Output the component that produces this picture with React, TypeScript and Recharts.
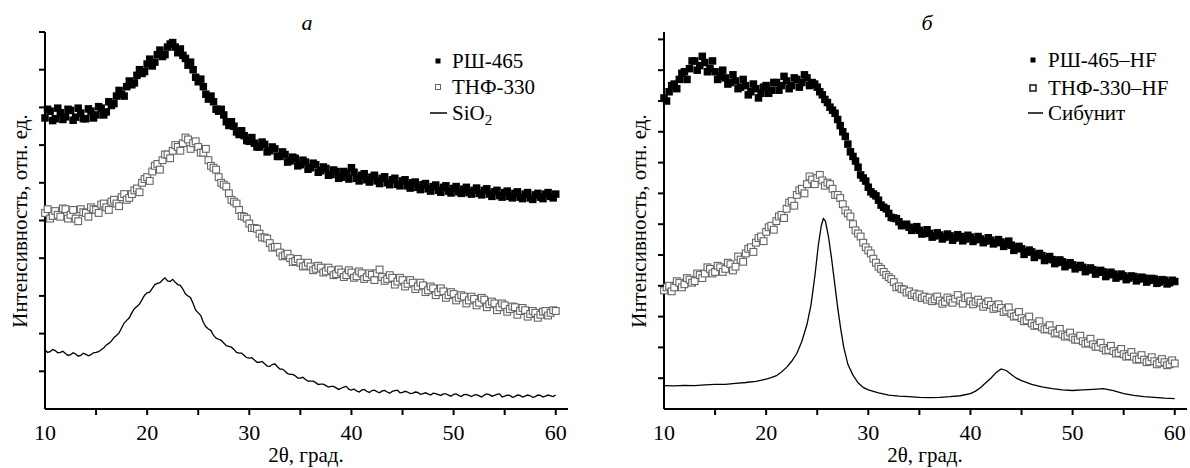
import React from 'react'
import { ComposedChart, Scatter, Line, XAxis, YAxis } from 'recharts'

// 2θ grid (deg) of the scan, whole and half steps
const twoTheta = [
  10, 10.5, 11, 11.5, 12, 12.5, 13, 13.5, 14, 14.5, 15, 15.5, 16, 16.5, 17, 17.5, 18, 18.5, 19, 19.5,
  20, 20.5, 21, 21.5, 22, 22.5, 23, 23.5, 24, 24.5, 25, 25.5, 26, 26.5, 27, 27.5, 28, 28.5, 29, 29.5,
  30, 30.5, 31, 31.5, 32, 32.5, 33, 33.5, 34, 34.5, 35, 35.5, 36, 36.5, 37, 37.5, 38, 38.5, 39, 39.5,
  40, 40.5, 41, 41.5, 42, 42.5, 43, 43.5, 44, 44.5, 45, 45.5, 46, 46.5, 47, 47.5, 48, 48.5, 49, 49.5,
  50, 50.5, 51, 51.5, 52, 52.5, 53, 53.5, 54, 54.5, 55, 55.5, 56, 56.5, 57, 57.5, 58, 58.5, 59, 59.5, 60
]
// the in-between points of the scan
const twoThetaMid = [
  10.25, 10.75, 11.25, 11.75, 12.25, 12.75, 13.25, 13.75, 14.25, 14.75, 15.25, 15.75, 16.25, 16.75, 17.25, 17.75, 18.25, 18.75, 19.25, 19.75,
  20.25, 20.75, 21.25, 21.75, 22.25, 22.75, 23.25, 23.75, 24.25, 24.75, 25.25, 25.75, 26.25, 26.75, 27.25, 27.75, 28.25, 28.75, 29.25, 29.75,
  30.25, 30.75, 31.25, 31.75, 32.25, 32.75, 33.25, 33.75, 34.25, 34.75, 35.25, 35.75, 36.25, 36.75, 37.25, 37.75, 38.25, 38.75, 39.25, 39.75,
  40.25, 40.75, 41.25, 41.75, 42.25, 42.75, 43.25, 43.75, 44.25, 44.75, 45.25, 45.75, 46.25, 46.75, 47.25, 47.75, 48.25, 48.75, 49.25, 49.75,
  50.25, 50.75, 51.25, 51.75, 52.25, 52.75, 53.25, 53.75, 54.25, 54.75, 55.25, 55.75, 56.25, 56.75, 57.25, 57.75, 58.25, 58.75, 59.25, 59.75
]

// panel a
const rsh465 = [
  7.72, 7.9, 7.7, 7.86, 7.75, 7.92, 7.74, 7.85, 7.7, 7.9, 7.8, 7.98, 7.88, 8.05, 8.3, 8.35, 8.55, 8.6, 8.85, 8.9,
  9.15, 9.1, 9.4, 9.35, 9.6, 9.72, 9.45, 9.38, 9.12, 9.0, 8.68, 8.55, 8.22, 8.15, 7.9, 7.8, 7.52, 7.5, 7.28, 7.25,
  7.1, 7.05, 6.95, 7.02, 6.85, 6.9, 6.7, 6.75, 6.58, 6.65, 6.48, 6.55, 6.4, 6.48, 6.32, 6.38, 6.22, 6.3, 6.15, 6.25,
  6.4, 6.12, 6.2, 6.08, 6.15, 6.05, 6.12, 6.0, 6.08, 5.96, 6.05, 5.92, 6.0, 5.88, 5.95, 5.84, 5.9, 5.8, 5.88, 5.78,
  5.85, 5.76, 5.83, 5.74, 5.8, 5.72, 5.8, 5.7, 5.76, 5.66, 5.74, 5.64, 5.72, 5.62, 5.7, 5.6, 5.68, 5.62, 5.7, 5.64, 5.7
]
const rsh465Mid = [
  7.95, 7.65, 7.98, 7.68, 7.95, 7.66, 7.98, 7.7, 7.96, 7.72, 8.02, 7.8, 8.15, 8.1, 8.45, 8.3, 8.7, 8.65, 9.0, 8.95,
  9.28, 9.2, 9.52, 9.4, 9.68, 9.6, 9.55, 9.3, 9.2, 8.8, 8.75, 8.35, 8.3, 7.95, 7.95, 7.62, 7.62, 7.35, 7.38, 7.12,
  7.2, 6.95, 7.08, 6.82, 6.95, 6.7, 6.82, 6.55, 6.68, 6.45, 6.6, 6.36, 6.52, 6.28, 6.42, 6.2, 6.34, 6.12, 6.3, 6.1,
  6.28, 6.05, 6.24, 6.02, 6.2, 5.98, 6.16, 5.95, 6.12, 5.92, 6.08, 5.86, 6.02, 5.82, 5.98, 5.78, 5.94, 5.75, 5.92, 5.73,
  5.9, 5.72, 5.88, 5.7, 5.86, 5.68, 5.84, 5.64, 5.8, 5.62, 5.78, 5.6, 5.76, 5.58, 5.74, 5.56, 5.72, 5.58, 5.74, 5.6
]
const thf330 = [
  5.2, 5.05, 5.25, 5.1, 5.3, 5.15, 5.05, 5.3, 5.2, 5.35, 5.28, 5.42, 5.35, 5.5, 5.45, 5.62, 5.55, 5.7, 5.85, 6.0,
  6.15, 6.3, 6.5, 6.6, 6.75, 6.85, 6.95, 7.05, 7.15, 7.05, 6.95, 6.8, 6.6, 6.4, 6.15, 5.95, 5.72, 5.5, 5.28, 5.1,
  4.92, 4.8, 4.65, 4.55, 4.4, 4.3, 4.15, 4.08, 4.0, 3.92, 3.88, 3.8, 3.78, 3.72, 3.75, 3.65, 3.68, 3.58, 3.62, 3.55,
  3.62, 3.52, 3.6, 3.5, 3.56, 3.6, 3.5, 3.45, 3.48, 3.38, 3.42, 3.32, 3.35, 3.25, 3.28, 3.15, 3.2, 3.1, 3.12, 3.02,
  3.05, 2.95, 2.98, 2.88, 2.92, 2.82, 2.9, 2.78, 2.8, 2.7, 2.75, 2.65, 2.7, 2.6, 2.62, 2.52, 2.55, 2.5, 2.6, 2.55, 2.6
]
const thf330Mid = [
  5.3, 5.12, 5.15, 5.32, 5.05, 5.28, 4.98, 5.22, 5.1, 5.3, 5.2, 5.45, 5.28, 5.55, 5.38, 5.7, 5.6, 5.8, 5.75, 6.1,
  6.05, 6.45, 6.35, 6.75, 6.65, 7.0, 6.85, 7.2, 6.9, 7.1, 6.8, 6.9, 6.45, 6.35, 6.0, 5.9, 5.55, 5.45, 5.12, 5.05,
  4.8, 4.78, 4.55, 4.52, 4.28, 4.3, 4.05, 4.12, 3.9, 3.98, 3.78, 3.88, 3.68, 3.8, 3.62, 3.75, 3.55, 3.7, 3.5, 3.68,
  3.48, 3.65, 3.45, 3.6, 3.42, 3.7, 3.4, 3.55, 3.3, 3.48, 3.25, 3.42, 3.18, 3.35, 3.1, 3.25, 3.02, 3.2, 2.95, 3.1,
  2.88, 3.02, 2.8, 2.98, 2.75, 2.95, 2.7, 2.85, 2.62, 2.8, 2.58, 2.72, 2.5, 2.68, 2.45, 2.6, 2.42, 2.58, 2.48, 2.62
]
const sio2 = [
  1.57, 1.52, 1.55, 1.5, 1.47, 1.44, 1.46, 1.42, 1.45, 1.44, 1.5, 1.57, 1.7, 1.8, 1.95, 2.15, 2.35, 2.55, 2.72, 2.9,
  3.08, 3.2, 3.33, 3.42, 3.4, 3.44, 3.3, 3.18, 3.0, 2.8, 2.55, 2.3, 2.12, 1.95, 1.85, 1.75, 1.66, 1.58, 1.48, 1.42,
  1.35, 1.3, 1.24, 1.2, 1.13, 1.2, 1.06, 1.0, 0.92, 0.88, 0.82, 0.78, 0.74, 0.7, 0.66, 0.62, 0.6, 0.56, 0.55, 0.6,
  0.5, 0.48, 0.5, 0.47, 0.49, 0.46, 0.48, 0.45, 0.47, 0.5, 0.44, 0.45, 0.42, 0.44, 0.41, 0.4, 0.42, 0.38, 0.4, 0.37,
  0.39, 0.36, 0.38, 0.36, 0.37, 0.35, 0.37, 0.38, 0.36, 0.4, 0.34, 0.36, 0.33, 0.36, 0.34, 0.35, 0.33, 0.36, 0.34, 0.35, 0.37
]
const sio2Mid = [
  1.5, 1.58, 1.49, 1.53, 1.42, 1.49, 1.4, 1.48, 1.41, 1.49, 1.52, 1.62, 1.74, 1.9, 2.02, 2.28, 2.42, 2.66, 2.78, 3.02,
  3.1, 3.3, 3.35, 3.48, 3.38, 3.36, 3.28, 3.05, 2.95, 2.62, 2.48, 2.18, 2.08, 1.88, 1.82, 1.68, 1.64, 1.5, 1.48, 1.36,
  1.36, 1.24, 1.26, 1.14, 1.18, 1.12, 1.06, 0.94, 0.92, 0.82, 0.84, 0.74, 0.74, 0.65, 0.66, 0.58, 0.6, 0.52, 0.58, 0.52,
  0.53, 0.45, 0.52, 0.44, 0.5, 0.43, 0.49, 0.42, 0.49, 0.43, 0.47, 0.41, 0.45, 0.39, 0.43, 0.37, 0.41, 0.36, 0.4, 0.34,
  0.4, 0.33, 0.39, 0.33, 0.38, 0.32, 0.4, 0.34, 0.39, 0.32, 0.37, 0.31, 0.37, 0.32, 0.37, 0.31, 0.37, 0.32, 0.37, 0.33
]

// panel б
const rsh465hf = [
  10.1, 10.3, 10.55, 10.7, 10.95, 11.05, 11.3, 11.15, 11.25, 11.05, 10.95, 10.8, 10.75, 10.6, 10.65, 10.45, 10.5, 10.3, 10.4, 10.25,
  10.5, 10.35, 10.6, 10.5, 10.65, 10.5, 10.7, 10.6, 10.75, 10.6, 10.45, 10.2, 9.95, 9.7, 9.4, 9.0, 8.6, 8.2, 7.85, 7.5,
  7.2, 6.98, 6.78, 6.55, 6.35, 6.2, 6.08, 5.98, 5.9, 5.85, 5.8, 5.72, 5.7, 5.62, 5.65, 5.58, 5.62, 5.55, 5.6, 5.52,
  5.58, 5.5, 5.52, 5.45, 5.48, 5.4, 5.42, 5.34, 5.32, 5.22, 5.2, 5.1, 5.1, 5.0, 4.98, 4.88, 4.85, 4.76, 4.78, 4.68,
  4.68, 4.6, 4.6, 4.52, 4.52, 4.44, 4.45, 4.36, 4.38, 4.3, 4.32, 4.25, 4.3, 4.22, 4.25, 4.18, 4.22, 4.12, 4.18, 4.1, 4.14
]
const rsh465hfMid = [
  10.0, 10.5, 10.4, 10.9, 10.7, 11.3, 11.0, 11.45, 10.95, 11.3, 10.7, 11.0, 10.55, 10.85, 10.4, 10.7, 10.2, 10.55, 10.1, 10.45,
  10.25, 10.6, 10.35, 10.8, 10.4, 10.75, 10.45, 10.85, 10.5, 10.55, 10.3, 10.05, 9.8, 9.6, 9.2, 8.85, 8.35, 8.05, 7.6, 7.4,
  7.05, 6.92, 6.62, 6.5, 6.22, 6.18, 5.95, 6.0, 5.8, 5.92, 5.68, 5.82, 5.58, 5.72, 5.52, 5.68, 5.48, 5.66, 5.46, 5.64,
  5.44, 5.6, 5.4, 5.56, 5.36, 5.5, 5.28, 5.45, 5.15, 5.28, 5.02, 5.16, 4.92, 5.05, 4.82, 4.95, 4.72, 4.84, 4.62, 4.75,
  4.55, 4.66, 4.46, 4.58, 4.38, 4.5, 4.3, 4.44, 4.25, 4.38, 4.2, 4.32, 4.16, 4.28, 4.12, 4.24, 4.08, 4.2, 4.06, 4.18
]
const thf330hf = [
  3.85, 4.0, 3.95, 4.1, 4.05, 4.2, 4.15, 4.35, 4.4, 4.55, 4.45, 4.6, 4.55, 4.7, 4.62, 4.85, 5.05, 5.25, 5.4, 5.6,
  5.75, 5.95, 6.1, 6.3, 6.5, 6.75, 6.95, 7.15, 7.3, 7.45, 7.5, 7.42, 7.35, 7.15, 6.95, 6.65, 6.35, 6.0, 5.7, 5.4,
  5.15, 4.88, 4.62, 4.45, 4.28, 4.12, 3.98, 3.88, 3.82, 3.75, 3.72, 3.65, 3.62, 3.56, 3.52, 3.48, 3.55, 3.58, 3.52, 3.6,
  3.5, 3.48, 3.45, 3.4, 3.38, 3.3, 3.28, 3.2, 3.1, 3.02, 2.95, 2.88, 2.78, 2.72, 2.65, 2.6, 2.55, 2.48, 2.42, 2.38,
  2.32, 2.25, 2.2, 2.15, 2.1, 2.02, 1.98, 1.92, 1.88, 1.82, 1.78, 1.72, 1.7, 1.62, 1.6, 1.55, 1.55, 1.5, 1.52, 1.45, 1.48
]
const thf330hfMid = [
  3.95, 3.82, 4.15, 3.95, 4.25, 4.1, 4.4, 4.25, 4.6, 4.4, 4.65, 4.45, 4.75, 4.5, 4.95, 4.78, 5.2, 5.1, 5.55, 5.45,
  5.9, 5.82, 6.25, 6.2, 6.7, 6.6, 7.1, 7.0, 7.55, 7.3, 7.6, 7.25, 7.3, 6.95, 6.85, 6.45, 6.25, 5.8, 5.6, 5.25,
  5.05, 4.75, 4.55, 4.35, 4.22, 3.95, 3.9, 3.78, 3.7, 3.65, 3.6, 3.55, 3.5, 3.65, 3.42, 3.62, 3.45, 3.7, 3.42, 3.65,
  3.4, 3.55, 3.32, 3.5, 3.25, 3.4, 3.15, 3.3, 3.0, 3.15, 2.85, 3.0, 2.7, 2.85, 2.58, 2.72, 2.45, 2.6, 2.35, 2.48,
  2.25, 2.38, 2.12, 2.28, 2.02, 2.15, 1.9, 2.05, 1.8, 1.95, 1.7, 1.85, 1.6, 1.75, 1.52, 1.68, 1.45, 1.62, 1.42, 1.58
]
const sibunitX = [
  10, 11, 12, 13, 14, 15, 16, 17, 18, 19, 20, 20.5, 21, 21.5, 22, 22.5, 23, 23.5, 24, 24.4,
  24.8, 25.1, 25.4, 25.6, 25.8, 26.1, 26.4, 26.7, 27, 27.3, 27.6, 28, 28.5, 29, 29.5, 30, 31, 32, 33, 34,
  35, 36, 37, 38, 39, 40, 40.5, 41, 41.5, 42, 42.5, 43, 43.5, 44, 44.5, 45, 46, 47, 48, 49,
  50, 51, 52, 53, 54, 55, 56, 57, 58, 59, 60
]
const sibunitY = [
  0.76, 0.75, 0.77, 0.76, 0.78, 0.8, 0.8, 0.83, 0.86, 0.9, 0.97, 1.02, 1.08, 1.2, 1.35, 1.55, 1.8, 2.2, 2.75, 3.4,
  4.4, 5.3, 5.95, 6.18, 6.1, 5.6, 4.9, 4.1, 3.3, 2.6, 2.0, 1.45, 1.1, 0.85, 0.7, 0.62, 0.52, 0.45, 0.42, 0.4,
  0.38, 0.37, 0.38, 0.4, 0.43, 0.5, 0.58, 0.7, 0.85, 1.0, 1.18, 1.3, 1.25, 1.12, 1.0, 0.92, 0.8, 0.72, 0.66, 0.62,
  0.6, 0.62, 0.64, 0.66, 0.6, 0.5, 0.44, 0.4, 0.38, 0.35, 0.34
]

const xTicks = [10, 15, 20, 25, 30, 35, 40, 45, 50, 55, 60]
const yTicksA = [1, 2, 3, 4, 5, 6, 7, 8, 9, 10]
const yTicksB = [1, 2, 3, 4, 5, 6, 7, 8, 9, 10, 11, 12]

const FONT = '"Liberation Serif", "Times New Roman", serif'

const toPoints = (xs: number[], ys: number[]) => xs.map((x, i) => ({ x, y: ys[i] }))
const merged = (a: { x: number; y: number }[], b: { x: number; y: number }[]) =>
  [...a, ...b].sort((p, q) => p.x - q.x)

const FilledSquare = (props: any) => (
  <rect x={props.cx - 3.75} y={props.cy - 3.75} width={7.5} height={7.5} fill="#000" />
)

const OpenSquare = (props: any) => (
  <rect x={props.cx - 3.4} y={props.cy - 3.4} width={6.8} height={6.8} fill="#fff" stroke="#666" strokeWidth={1.1} />
)

const XTick = ({ x, y, payload }: any) => {
  const v = payload.value
  return (
    <g>
      {v !== 10 && <line x1={x} x2={x} y1={y} y2={y + 6} stroke="#000" strokeWidth={2} />}
      {v % 10 === 0 && (
        <text x={x} y={y + 31} textAnchor="middle" fontFamily={FONT} fontSize={22} fill="#000">
          {v}
        </text>
      )}
    </g>
  )
}

const YTick = ({ x, y }: any) => <line x1={x - 6} x2={x} y1={y} y2={y} stroke="#000" strokeWidth={2} />

function Panel({ width, axisWidth, right, yMax, yTicks, filled, open, line }: any) {
  return (
    <ComposedChart width={width} height={468} margin={{ top: 32, right, bottom: 0, left: 0 }}>
      <XAxis
        type="number"
        dataKey="x"
        domain={[10, 61.2]}
        ticks={xTicks}
        height={59}
        tickSize={0}
        tickMargin={0}
        tickLine={false}
        axisLine={{ stroke: '#000', strokeWidth: 2 }}
        tick={<XTick />}
        interval={0}
      />
      <YAxis
        type="number"
        dataKey="y"
        domain={[0, yMax]}
        ticks={yTicks}
        width={axisWidth}
        tickSize={0}
        tickMargin={0}
        tickLine={false}
        axisLine={{ stroke: '#000', strokeWidth: 2 }}
        tick={<YTick />}
        interval={0}
      />
      <Line data={line} dataKey="y" type="linear" stroke="#000" strokeWidth={1.3} dot={false} isAnimationActive={false} />
      <Scatter data={open} shape={<OpenSquare />} isAnimationActive={false} />
      <Scatter data={filled} shape={<FilledSquare />} isAnimationActive={false} />
    </ComposedChart>
  )
}

const textStyle = { fontFamily: FONT, fontSize: 21, fill: '#000' }

export default function App() {
  return (
    <div style={{ position: 'absolute', left: 0, top: 0, width: 1190, height: 468, background: '#fff' }}>
      <div style={{ position: 'absolute', left: 0, top: 0 }}>
        <Panel
          width={600}
          axisWidth={45}
          right={32}
          yMax={10}
          yTicks={yTicksA}
          filled={merged(toPoints(twoTheta, rsh465), toPoints(twoThetaMid, rsh465Mid))}
          open={merged(toPoints(twoTheta, thf330), toPoints(twoThetaMid, thf330Mid))}
          line={merged(toPoints(twoTheta, sio2), toPoints(twoThetaMid, sio2Mid))}
        />
      </div>
      <div style={{ position: 'absolute', left: 600, top: 0 }}>
        <Panel
          width={590}
          axisWidth={64}
          right={3}
          yMax={12.24}
          yTicks={yTicksB}
          filled={merged(toPoints(twoTheta, rsh465hf), toPoints(twoThetaMid, rsh465hfMid))}
          open={merged(toPoints(twoTheta, thf330hf), toPoints(twoThetaMid, thf330hfMid))}
          line={toPoints(sibunitX, sibunitY)}
        />
      </div>
      <svg width={1190} height={468} style={{ position: 'absolute', left: 0, top: 0, pointerEvents: 'none' }}>
        <text x={307} y={30} textAnchor="middle" fontStyle="italic" {...textStyle} fontSize={22}>а</text>
        <text x={927} y={30} textAnchor="middle" fontStyle="italic" {...textStyle} fontSize={22}>б</text>

        <text transform="translate(27,221) rotate(-90)" textAnchor="middle" {...textStyle}>Интенсивность, отн. ед.</text>
        <text transform="translate(646,221) rotate(-90)" textAnchor="middle" {...textStyle}>Интенсивность, отн. ед.</text>

        <text x={306} y={462} textAnchor="middle" {...textStyle}>2θ, град.</text>
        <text x={925} y={462} textAnchor="middle" {...textStyle}>2θ, град.</text>

        <rect x={435.5} y={58.5} width={5} height={5} fill="#000" />
        <text x={452} y={68} {...textStyle}>РШ-465</text>
        <rect x={435.5} y={84.5} width={5} height={5} fill="#fff" stroke="#666" strokeWidth={1} />
        <text x={452} y={94} {...textStyle}>ТНФ-330</text>
        <line x1={430} x2={447} y1={113} y2={113} stroke="#000" strokeWidth={1.5} />
        <text x={452} y={120} {...textStyle}>
          SiO<tspan fontSize={15} dy={5}>2</tspan>
        </text>

        <rect x={1030.5} y={57.5} width={5} height={5} fill="#000" />
        <text x={1048} y={67} {...textStyle}>РШ-465–HF</text>
        <rect x={1030} y={85} width={6} height={6} fill="#fff" stroke="#222" strokeWidth={1.6} />
        <text x={1048} y={95} {...textStyle}>ТНФ-330–HF</text>
        <line x1={1028} x2={1043} y1={113} y2={113} stroke="#000" strokeWidth={1.5} />
        <text x={1048} y={120} {...textStyle}>Сибунит</text>
      </svg>
    </div>
  )
}
